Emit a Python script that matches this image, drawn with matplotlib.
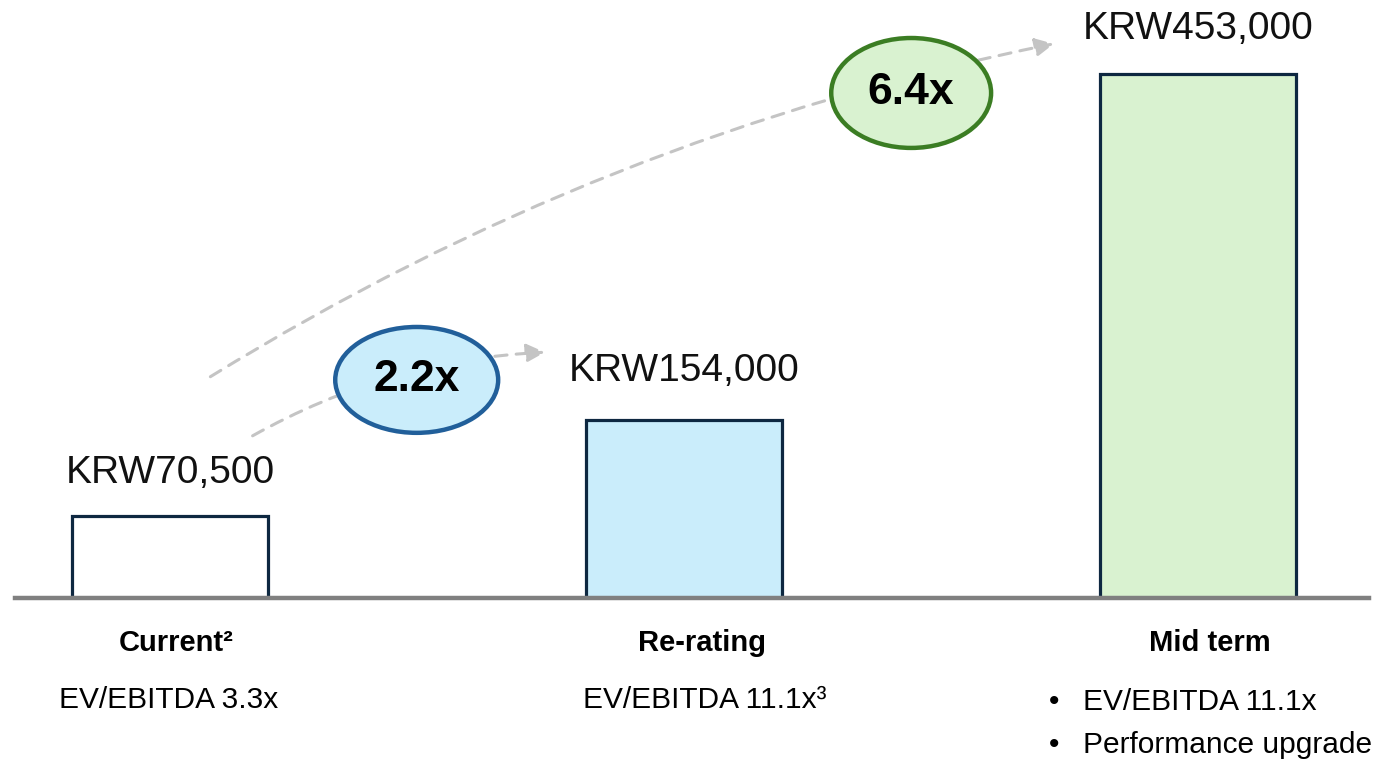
import matplotlib.pyplot as plt
from matplotlib.patches import Ellipse, FancyArrowPatch

plt.rcParams['font.family'] = ['Liberation Sans', 'DejaVu Sans']

# share price scenarios (KRW)
stages = ["Current²", "Re-rating", "Mid term"]
prices = [70500, 154000, 453000]
price_labels = ["KRW70,500", "KRW154,000", "KRW453,000"]
notes = [["EV/EBITDA 3.3x"], ["EV/EBITDA 11.1x³"],
         ["EV/EBITDA 11.1x", "Performance upgrade"]]

bar_fill = ["#ffffff", "#caedfb", "#d9f2d0"]
bar_edge = "#0e2841"

fig = plt.figure(figsize=(13.86, 7.6), dpi=100)
ax = fig.add_axes([0, 162 / 760, 1, 578.5 / 760])
ax.set_xlim(-0.3307, 2.3658)
ax.set_ylim(0, 500000)
ax.axis("off")

x = range(len(prices))
ax.bar(x, prices, width=0.381, color=bar_fill, edgecolor=bar_edge,
       linewidth=2.3, zorder=3)
ax.axhline(0, xmin=0.011, xmax=0.988, color="#808080", lw=3.2, zorder=4,
           clip_on=False)

gaps = [18, 22, 19]
for i, (p, lab) in enumerate(zip(prices, price_labels)):
    ax.annotate(lab, (i, p), xytext=(0, gaps[i]), textcoords="offset points",
                ha="center", va="bottom", fontsize=28, color="#111111")

# category names and notes under the axis
name_dx = [0.013, 0.035, 0.023]
for i, name in enumerate(stages):
    ax.text(i + name_dx[i], -39000, name, ha="center", va="center",
            fontsize=21, fontweight="bold", clip_on=False)

note_size = 21.5
ax.text(-0.003, -88000, notes[0][0], ha="center", va="center",
        fontsize=note_size, clip_on=False)
ax.text(1.04, -88000, notes[1][0], ha="center", va="center",
        fontsize=note_size, clip_on=False)
for j, line in enumerate(notes[2]):
    y = -90000 - j * 37000
    ax.text(1.72, y, "•", ha="center", va="center", fontsize=note_size,
            clip_on=False)
    ax.text(1.777, y, line, ha="left", va="center", fontsize=note_size,
            clip_on=False)

# dashed growth arrows
arrow_kw = dict(arrowstyle="-|>", mutation_scale=28, color="#c4c4c4",
                lw=2.2, linestyle=(0, (4, 3)), zorder=2)
ax.add_patch(FancyArrowPatch((0.156, 139000), (0.735, 212500),
                             connectionstyle="arc3,rad=-0.12", **arrow_kw))
ax.add_patch(FancyArrowPatch((0.074, 190000), (1.725, 479500),
                             connectionstyle="arc3,rad=-0.09", **arrow_kw))

# multiple bubbles
bubbles = [
    (0.48, 188500, 0.317, 91500, "#caedfb", "#215f9a", prices[1] / prices[0]),
    (1.442, 436500, 0.311, 95000, "#d9f2d0", "#3b7d23", prices[2] / prices[0]),
]
for cx, cy, w, h, fc, ec, ratio in bubbles:
    ax.add_patch(Ellipse((cx, cy), w, h, facecolor=fc, edgecolor=ec,
                         lw=3.2, zorder=5, clip_on=False))
    ax.text(cx, cy, f"{ratio:.1f}x", ha="center", va="center", fontsize=32,
            fontweight="bold", zorder=6)

fig.savefig("out.png", dpi=100)
